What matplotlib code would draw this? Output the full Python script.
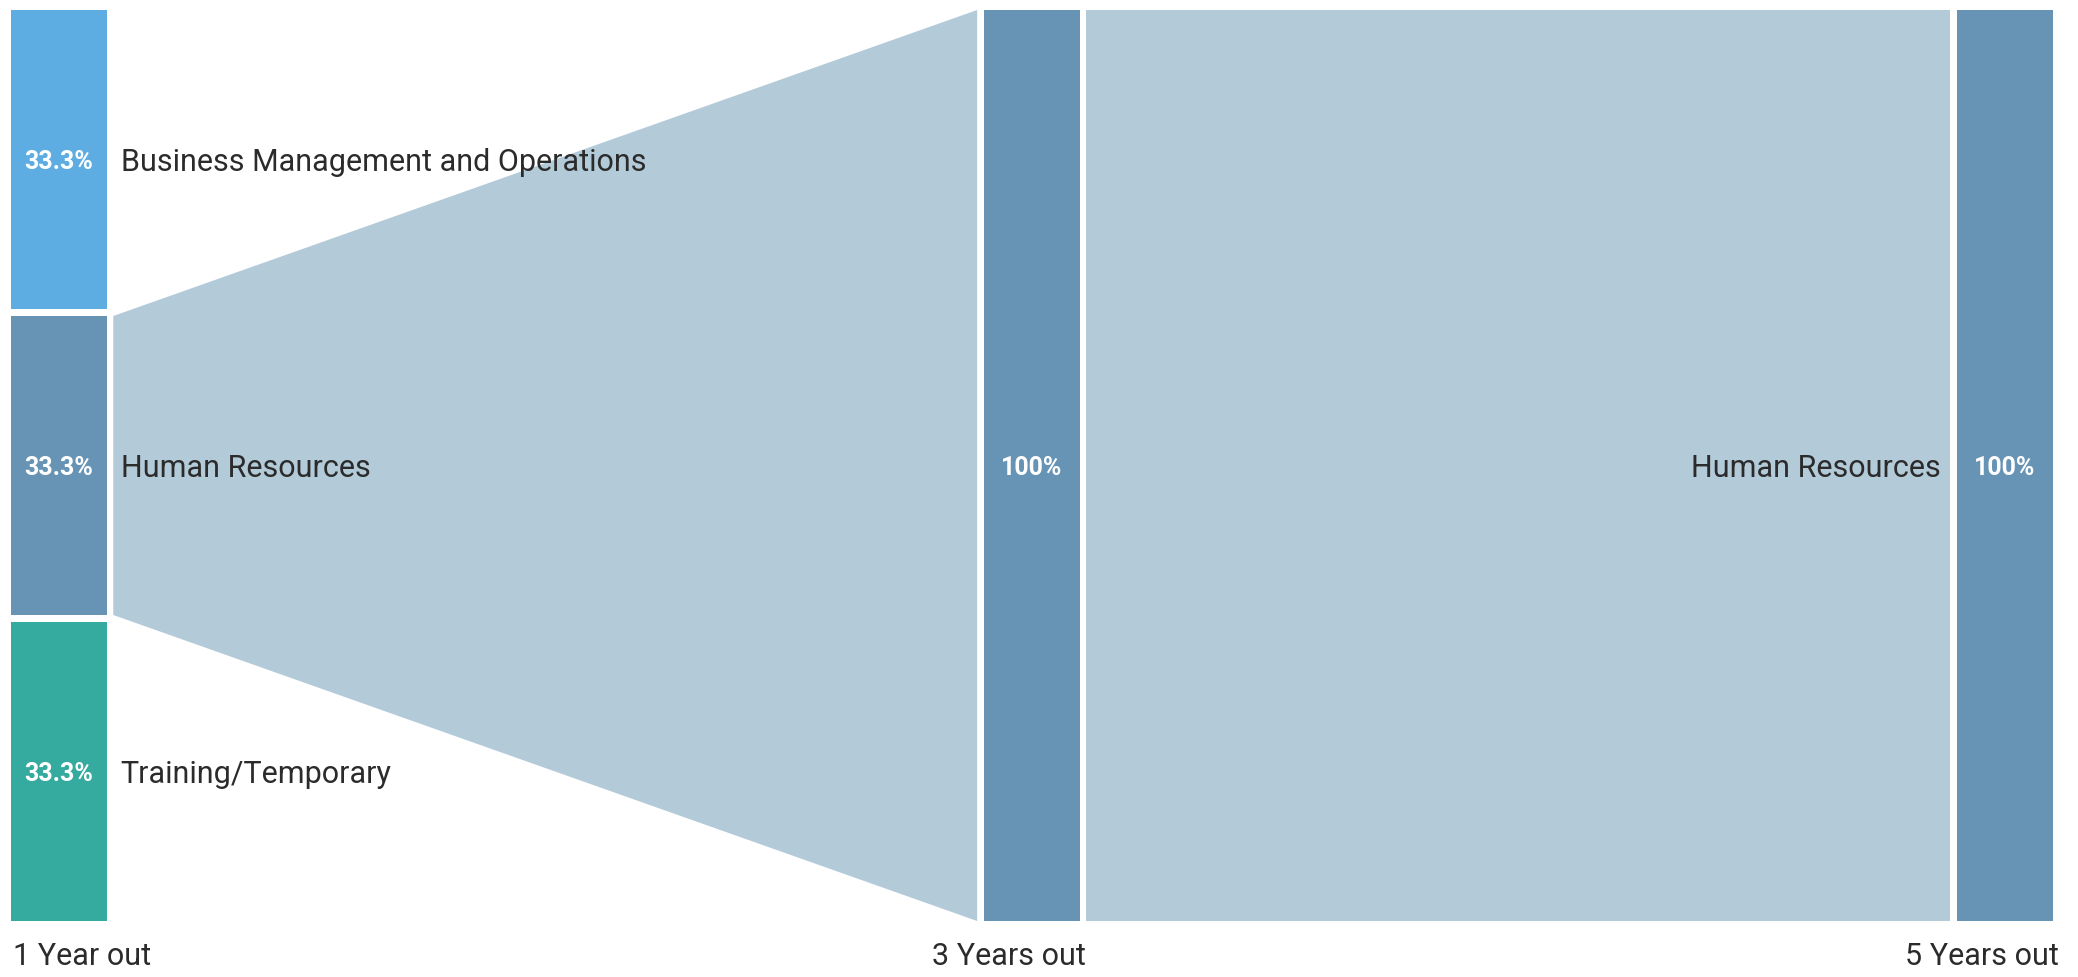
import matplotlib.pyplot as plt
from matplotlib.patches import Rectangle, Polygon

# stages (columns) and the nodes in each
stages = ["1 Year out", "3 Years out", "5 Years out"]
stage_nodes = [
    ["Business Management and Operations", "Human Resources", "Training/Temporary"],
    ["Human Resources"],
    ["Human Resources"],
]
stage_values = [
    [33.3, 33.3, 33.3],
    [100.0],
    [100.0],
]
node_colors = [
    ["#5dade2", "#6794b4", "#35aa9e"],
    ["#6794b4"],
    ["#6794b4"],
]

# flows: (stage, node) -> (stage, node), share of source node, share of target node
flow_src = [(0, 1), (1, 0)]
flow_dst = [(1, 0), (2, 0)]
flow_src_share = [100.0, 100.0]
flow_dst_share = [100.0, 100.0]
flow_color = "#b3cad8"

plt.rcParams["font.family"] = ["Roboto", "DejaVu Sans"]

fig = plt.figure(figsize=(20.78, 9.77), dpi=100)
W, H = 2078, 977
ax = fig.add_axes([10.6 / W, (H - 921) / H, (2053 - 10.6) / W, 911 / H])
ax.axis("off")

node_w = 0.0987
node_gap = 0.0077
link_pad = 0.0068
text_dy = 0.003  # nudge so text sits optically centred
ax.set_xlim(0, (len(stages) - 1) + node_w)
ax.set_ylim(1, 0)

# layout of nodes: each column fills the full height
layout = []
for s, vals in enumerate(stage_values):
    total = sum(vals)
    scale = (1 - node_gap * (len(vals) - 1)) / total
    y = 0.0
    col = []
    for v in vals:
        h = v * scale
        col.append((y, y + h))
        y += h + node_gap
    layout.append(col)

# flows
for (ss, sn), (ts, tn), sp, tp in zip(flow_src, flow_dst, flow_src_share, flow_dst_share):
    y0, y1 = layout[ss][sn]
    t0, t1 = layout[ts][tn]
    xs = ss + node_w + link_pad
    xt = ts - link_pad
    ys1 = y0 + (y1 - y0) * sp / 100
    yt1 = t0 + (t1 - t0) * tp / 100
    ax.add_patch(Polygon([(xs, y0), (xt, t0), (xt, yt1), (xs, ys1)],
                         closed=True, facecolor=flow_color, edgecolor="none"))

# nodes and labels
last = len(stages) - 1
for s, col in enumerate(layout):
    for i, (y0, y1) in enumerate(col):
        ax.add_patch(Rectangle((s, y0), node_w, y1 - y0,
                               facecolor=node_colors[s][i], edgecolor="none"))
        ym = (y0 + y1) / 2 + text_dy
        ax.text(s + node_w / 2, ym, f"{stage_values[s][i]:g}%", color="white",
                fontsize=18, fontweight="bold", ha="center", va="center")
        if s == 0:
            ax.text(s + node_w + 0.0145, ym, stage_nodes[s][i], color="#2b2b2b",
                    fontsize=22, ha="left", va="center")
        elif s == last:
            ax.text(s - 0.0165, ym, stage_nodes[s][i], color="#2b2b2b",
                    fontsize=22, ha="right", va="center")

# stage titles under the columns
for s, name in enumerate(stages):
    if s == 0:
        ax.text(s + 0.002, 1.039, name, ha="left", va="center",
                fontsize=22, color="#2b2b2b", clip_on=False)
    else:
        ax.text(s + node_w + 0.006, 1.039, name, ha="right", va="center",
                fontsize=22, color="#2b2b2b", clip_on=False)

fig.savefig("out.png", dpi=100)
